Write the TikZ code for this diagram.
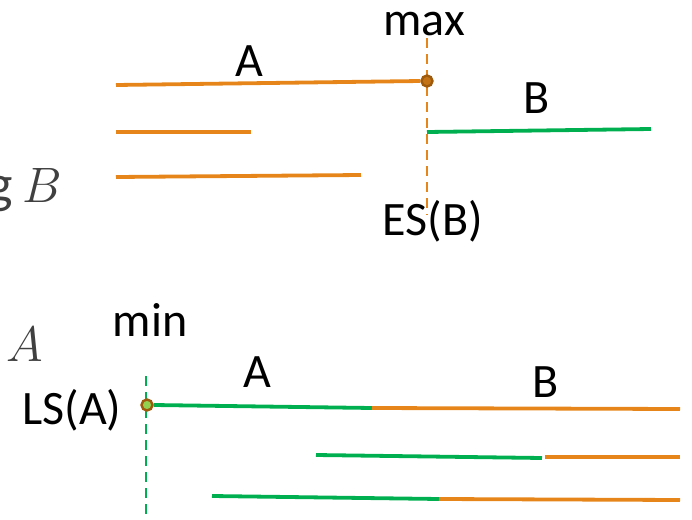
\documentclass[tikz,border=0pt]{standalone}
\usepackage{fontspec}
\setmainfont{Carlito}
\definecolor{tangerine}{RGB}{230,134,26}
\definecolor{leaf}{RGB}{0,176,80}
\definecolor{lime}{RGB}{146,208,80}
\definecolor{rust}{RGB}{160,90,12}
\definecolor{slate}{RGB}{64,64,64}
\newcommand{\lbl}[1]{{\fontsize{24}{28}\selectfont #1}}
\newcommand{\bigmath}[1]{{\fontsize{27}{31}\selectfont\color{slate}#1}}

\begin{document}
\begin{tikzpicture}[x=0.5pt,y=-0.5pt]
\tikzset{
  bar/.style={line width=1.9pt},
  guide/.style={line width=1.2pt,dash pattern=on 5pt off 3pt},
  txt/.style={anchor=base,inner sep=0pt},
  pin/.style={circle,draw=rust,line width=1.2pt,inner sep=0pt,minimum size=5.5pt}
}
\useasboundingbox (0,0) rectangle (692,520);

% upper part: ES(B)
\node[txt] (maxTop) at (424,35) {\lbl{max}};
\node[txt] (aTop) at (249,76) {\lbl{A}};
\node[txt] (bTop) at (537,113) {\lbl{B}};
\node[txt] (esB) at (433,235) {\lbl{ES(B)}};
\node[txt,anchor=base east] (gB) at (62,202) {\bigmath{g\,$B$}};

\coordinate (esTop) at (427,38);
\coordinate (esBot) at (427,215);
\draw[guide,tangerine] (esTop) -- (esBot);

\coordinate (a1s) at (116,85);
\node[pin,fill=tangerine!85!black] (maxDot) at (427,81) {};
\coordinate (a2s) at (116,132);
\coordinate (a2e) at (251,132);
\coordinate (a3s) at (116,177);
\coordinate (a3e) at (361,175);
\draw[bar,tangerine] (a1s) -- (maxDot.west);
\draw[bar,tangerine] (a2s) -- (a2e);
\draw[bar,tangerine] (a3s) -- (a3e);

\coordinate (bs) at (427,132);
\coordinate (be) at (651,129);
\draw[bar,leaf] (bs) -- (be);

% lower part: LS(A)
\node[txt] (minBot) at (150,336) {\lbl{min}};
\node[txt] (lsA) at (72,424) {\lbl{LS(A)}};
\node[txt] (aBot) at (257,387) {\lbl{A}};
\node[txt] (bBot) at (546,397) {\lbl{B}};
\node[txt] (mathA) at (25,361) {\bigmath{$A$}};

\coordinate (lsTop) at (146,376);
\coordinate (lsBot) at (146,520);
\draw[guide,leaf] (lsTop) -- (lsBot);

\node[pin,fill=lime] (minDot) at (147,405) {};
\coordinate (r1m) at (372,408);
\coordinate (r1e) at (680,409);
\coordinate (r2s) at (316,455);
\coordinate (r2m) at (542,458);
\coordinate (r2n) at (545,457);
\coordinate (r2e) at (680,457);
\coordinate (r3s) at (212,496);
\coordinate (r3m) at (439,499);
\coordinate (r3e) at (680,500);
\draw[bar,leaf] (minDot.east) -- (r1m);
\draw[bar,tangerine] (r1m) -- (r1e);
\draw[bar,leaf] (r2s) -- (r2m);
\draw[bar,tangerine] (r2n) -- (r2e);
\draw[bar,leaf] (r3s) -- (r3m);
\draw[bar,tangerine] (r3m) -- (r3e);

\end{tikzpicture}
\end{document}
